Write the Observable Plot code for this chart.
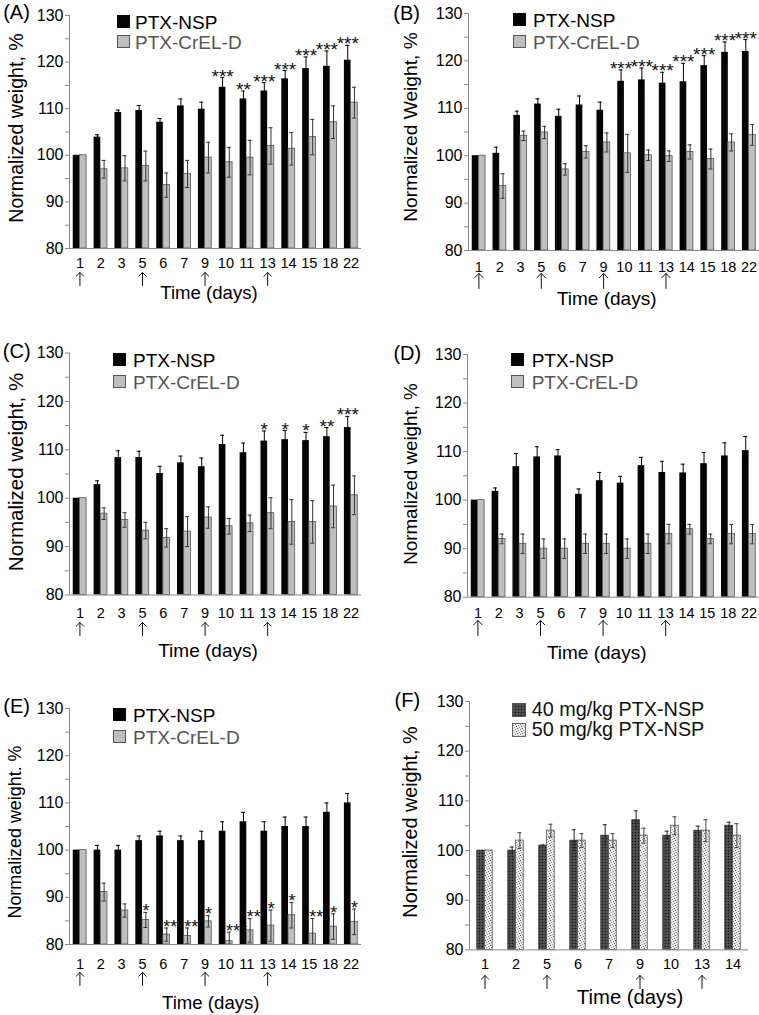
<!DOCTYPE html>
<html><head><meta charset="utf-8">
<script src="https://cdn.jsdelivr.net/npm/d3@7"></script>
<script src="https://cdn.jsdelivr.net/npm/@observablehq/plot@0.6"></script>
<style>
body{margin:0;background:#fff;}
#root{position:relative;width:759px;height:1015px;overflow:hidden;font-family:"Liberation Sans",Arial,Helvetica,sans-serif;color:#000;}
.panel{position:absolute;}
.lbl{position:absolute;white-space:nowrap;line-height:1;}
.sq{position:absolute;box-sizing:border-box;}
</style></head><body>
<svg width="0" height="0" style="position:absolute">
<defs>
<pattern id="patDark" width="3" height="3" patternUnits="userSpaceOnUse">
<rect width="3" height="3" fill="#444"/>
<rect x="0" y="0" width="1" height="1" fill="#161616"/>
<rect x="1.5" y="1.5" width="1" height="1" fill="#7a7a7a"/>
</pattern>
<pattern id="patLight" width="5" height="5" patternUnits="userSpaceOnUse">
<rect width="5" height="5" fill="#e8e8e8"/>
<rect x="0" y="0" width="1" height="1" fill="#555"/>
<rect x="3" y="1" width="1" height="1" fill="#888"/>
<rect x="1" y="2" width="1" height="1" fill="#999"/>
<rect x="4" y="3" width="1" height="1" fill="#666"/>
<rect x="2" y="4" width="1" height="1" fill="#aaa"/>
</pattern>
</defs></svg>
<div id="root"></div>
<script>
// ---------- data ----------
const days = ["1","2","3","5","6","7","9","10","11","13","14","15","18","22"];
const daysF = ["1","2","5","6","7","9","10","13","14"];
const arrowDays = ["1","5","9","13"];
const yTicks = [80, 90, 100, 110, 120, 130];
const yMinorTicks = [85, 95, 105, 115, 125];

// Panel A
const nspA     = [100, 103.9, 109.2, 109.6, 107.1, 110.6, 109.9, 114.6, 112.1, 113.8, 116.4, 118.6, 119.1, 120.4];
const nspErrA  = [0, 0.5, 0.5, 1.1, 0.8, 1.5, 1.5, 2.1, 1.7, 1.8, 1.8, 2.5, 3.3, 3.2];
const crelA    = [100, 97.0, 97.2, 97.7, 93.6, 96.0, 99.5, 98.5, 99.5, 102.0, 101.4, 103.9, 107.1, 111.3];
const crelErrA = [0, 1.9, 2.7, 3.2, 2.6, 2.9, 3.3, 3.2, 3.7, 3.9, 3.5, 3.8, 3.5, 3.3];
const starsA   = ["","","","","","","","***","**","***","***","***","***","***"];

// Panel B
const nspB     = [100, 100.5, 108.5, 110.9, 108.3, 110.7, 109.6, 115.7, 116.0, 115.3, 115.6, 119.0, 121.8, 122.0];
const nspErrB  = [0, 1.3, 0.9, 1.1, 1.5, 1.9, 1.7, 2.4, 2.5, 2.3, 3.9, 2.1, 2.2, 2.5];
const crelB    = [100, 93.6, 104.2, 104.9, 97.1, 100.8, 102.8, 100.5, 100.1, 99.9, 100.8, 99.3, 102.8, 104.4];
const crelErrB = [0, 2.6, 1.0, 1.3, 1.2, 1.3, 2.0, 4.0, 1.1, 1.1, 1.5, 2.1, 1.8, 2.2];
const starsB   = ["","","","","","","","***","***","***","***","***","***","***"];

// Panel C
const nspC     = [100, 102.8, 108.4, 108.4, 105.1, 107.3, 106.5, 111.1, 109.4, 111.8, 112.1, 111.9, 112.7, 114.6];
const nspErrC  = [0, 0.8, 1.4, 1.3, 1.5, 1.4, 1.8, 1.9, 2.0, 2.1, 1.9, 1.7, 1.9, 2.3];
const crelC    = [100, 96.8, 95.5, 93.3, 91.8, 93.1, 96.0, 94.2, 94.8, 96.9, 95.1, 95.1, 98.3, 100.6];
const crelErrC = [0, 1.2, 1.5, 1.7, 1.9, 3.1, 2.2, 1.6, 1.7, 3.2, 4.6, 4.4, 4.4, 4.0];
const starsC   = ["","","","","","","","","","*","*","*","**","***"];

// Panel D
const nspD     = [100, 101.8, 106.9, 108.9, 109.1, 101.2, 104.0, 103.5, 107.1, 105.7, 105.6, 107.5, 109.1, 110.2];
const nspErrD  = [0, 0.7, 2.7, 2.1, 1.3, 1.1, 1.7, 1.4, 1.7, 2.3, 1.8, 2.3, 2.7, 2.9];
const crelD    = [100, 92, 91, 90, 90, 91, 91, 90, 91, 93, 94, 92, 93, 93];
const crelErrD = [0, 1, 2, 2, 2, 2, 2, 2, 2, 2, 1, 1, 2, 2];
const starsD   = ["","","","","","","","","","","","","",""];

// Panel E
const nspE     = [100, 100, 100, 102, 103, 102, 102, 104, 106, 104, 105, 105, 108, 110];
const nspErrE  = [0, 1, 1, 1, 1, 1, 2, 2, 2, 2, 2, 2, 2, 2];
const crelE    = [100, 91.1, 87.2, 85.2, 82.1, 81.8, 84.9, 80.7, 83.0, 84.0, 86.2, 82.3, 83.8, 84.8];
const crelErrE = [0, 1.9, 1.4, 1.6, 1.4, 1.7, 1.2, 1.9, 2.5, 3.3, 2.7, 3.2, 2.7, 2.7];
const starsE   = ["","","","*","**","**","*","***","**","*","*","**","*","*"];

// Panel F
const nsp40F    = [100, 100, 101.0, 102, 103, 106.1, 103, 104, 105];
const nsp40ErrF = [0, 0.7, 0.1, 2.2, 2.2, 1.9, 0.9, 0.9, 0.7];
const nsp50F    = [100, 102, 104, 102, 102, 103, 105, 104, 103];
const nsp50ErrF = [0, 1.6, 1.3, 1.4, 1.4, 1.5, 1.8, 2.2, 2.4];
const starsF    = ["","","","","","","","",""];

// ---------- drawing ----------
const FONT = '"Liberation Sans", Arial, Helvetica, sans-serif';
const root = document.getElementById("root");

function panel(c) {
  const step = (c.x1 - c.x0) / c.days.length;
  const bw = step * c.barFrac;
  const cap = 4;
  const r1 = c.days.map((d, i) => ({day: d, v: c.s1[i], e: c.e1[i]}));
  const r2 = c.days.map((d, i) => ({day: d, v: c.s2[i], e: c.e2[i]}));
  const e1 = r1.filter(d => d.e > 0), e2 = r2.filter(d => d.e > 0);
  const src = c.starsOn === 1 ? r1 : r2;
  const st = c.days.map((d, i) => ({day: d, y: src[i].v + src[i].e, s: c.stars[i]})).filter(d => d.s);
  const capIn1 = {insetLeft: step / 2 - bw / 2 - cap / 2, insetRight: step / 2 + bw / 2 - cap / 2};
  const capIn2 = {insetLeft: step / 2 + bw / 2 - cap / 2, insetRight: step / 2 - bw / 2 - cap / 2};
  const svg = Plot.plot({
    width: c.width, height: c.height,
    marginLeft: c.x0, marginRight: c.width - c.x1, marginTop: c.mt, marginBottom: c.mb,
    x: {type: "band", domain: c.days, padding: 0, round: false},
    y: {domain: [80, 130]},
    style: {fontFamily: FONT, background: "transparent", color: "#000"},
    marks: [
      Plot.axisY(yTicks, {tickSize: 4, tickPadding: 2, fontSize: 16, stroke: "#888", label: null}),
      Plot.axisY(yMinorTicks, {tickSize: 4, stroke: "#888", fill: "none", label: null}),
      Plot.barY(r1, {x: "day", y1: 80, y2: "v", fill: c.fill1, stroke: c.stroke1, strokeWidth: 0.6, insetLeft: step / 2 - bw, insetRight: step / 2}),
      Plot.barY(r2, {x: "day", y1: 80, y2: "v", fill: c.fill2, stroke: c.stroke2, strokeWidth: 0.8, insetLeft: step / 2, insetRight: step / 2 - bw}),
      Plot.ruleX(e1, {x: "day", y1: d => d.v - d.e, y2: d => d.v + d.e, dx: -bw / 2, stroke: c.err1, clip: true}),
      Plot.tickY(e1, {x: "day", y: d => d.v + d.e, ...capIn1, stroke: c.err1}),
      Plot.ruleX(e2, {x: "day", y1: d => d.v - d.e, y2: d => d.v + d.e, dx: bw / 2, stroke: c.err2, clip: true}),
      Plot.tickY(e2, {x: "day", y: d => d.v + d.e, ...capIn2, stroke: c.err2}),
      Plot.tickY(e2.filter(d => d.v - d.e >= 80), {x: "day", y: d => d.v - d.e, ...capIn2, stroke: c.err2}),
      Plot.ruleY([80], {stroke: "#888"}),
      Plot.ruleX([c.days[0]], {x: d => d, y1: 80, y2: 130, dx: -step / 2, stroke: "#888"}),
      Plot.axisX({tickSize: 0, tickPadding: c.tickPad, fontSize: 14.5, label: null}),
      Plot.vector(arrowDays.filter(d => c.days.includes(d)), {x: d => d, frameAnchor: "bottom", dy: c.arrowOff, length: c.arrowLen, anchor: "start", r: 5, stroke: "#111", strokeWidth: 1}),
      Plot.text(st, {x: "day", y: "y", text: "s", fontSize: c.starSize, dy: -1, dx: c.starsOn === 1 ? -bw / 2 : 0, textAnchor: c.starsOn === 1 ? "middle" : "start", fill: "#111"})
    ]
  });
  svg.classList.add("panel");
  svg.style.left = c.left + "px";
  svg.style.top = c.top + "px";
  root.appendChild(svg);
}

function label(text, cx, cy, size, opts = {}) {
  const el = document.createElement("div");
  el.className = "lbl";
  el.textContent = text;
  el.style.fontSize = size + "px";
  el.style.left = cx + "px";
  el.style.top = cy + "px";
  el.style.color = opts.color || "#000";
  el.style.transform = (opts.anchor === "start" ? "translate(0,-50%)" : "translate(-50%,-50%)") + (opts.rotate ? " rotate(-90deg)" : "");
  root.appendChild(el);
}
function square(x, y, fill, stroke) {
  const el = document.createElement("div");
  el.className = "sq";
  el.style.left = x + "px"; el.style.top = y + "px";
  el.style.width = "13px"; el.style.height = "13px";
  el.style.background = fill;
  if (stroke) el.style.border = "1px solid " + stroke;
  root.appendChild(el);
}
function patSquare(x, y, pat) {
  const ns = "http://www.w3.org/2000/svg";
  const s = document.createElementNS(ns, "svg");
  s.setAttribute("width", 14); s.setAttribute("height", 14);
  s.style.position = "absolute"; s.style.left = x + "px"; s.style.top = y + "px";
  const r = document.createElementNS(ns, "rect");
  r.setAttribute("x", 0.5); r.setAttribute("y", 0.5); r.setAttribute("width", 13); r.setAttribute("height", 13);
  r.setAttribute("fill", "url(#" + pat + ")"); r.setAttribute("stroke", "#444"); r.setAttribute("stroke-width", 0.8);
  s.appendChild(r);
  root.appendChild(s);
}

const common = {days, barFrac: 0.32, fill1: "#050505", stroke1: "none", fill2: "#bfbfbf", stroke2: "#555", err1: "#000", err2: "#333", starSize: 19, width: 379};

panel({...common, s1: nspA, e1: nspErrA, s2: crelA, e2: crelErrA, stars: starsA, starsOn: 1,
  left: 0, top: 0, height: 300, mt: 15, mb: 52, x0: 69, x1: 361, tickPad: 9, arrowOff: 37, arrowLen: 13});
panel({...common, s1: nspB, e1: nspErrB, s2: crelB, e2: crelErrB, stars: starsB, starsOn: 1,
  left: 380, top: 0, height: 300, mt: 13, mb: 50, x0: 88, x1: 379, tickPad: 11.5, arrowOff: 38, arrowLen: 15});
panel({...common, s1: nspC, e1: nspErrC, s2: crelC, e2: crelErrC, stars: starsC, starsOn: 1,
  left: 0, top: 330, height: 310, mt: 22.5, mb: 45.5, x0: 69, x1: 361, tickPad: 13, arrowOff: 40.5, arrowLen: 13});
panel({...common, s1: nspD, e1: nspErrD, s2: crelD, e2: crelErrD, stars: starsD, starsOn: 1,
  left: 380, top: 330, height: 310, mt: 24, mb: 43.3, x0: 87, x1: 379, tickPad: 11, arrowOff: 38.3, arrowLen: 15});
panel({...common, s1: nspE, e1: nspErrE, s2: crelE, e2: crelErrE, stars: starsE, starsOn: 2, starSize: 18,
  left: 0, top: 670, height: 330, mt: 38, mb: 56, x0: 69, x1: 361, tickPad: 14, arrowOff: 41, arrowLen: 13});
panel({...common, days: daysF, barFrac: 0.25, fill1: "url(#patDark)", stroke1: "#222", fill2: "url(#patLight)", stroke2: "#555", err1: "#222", err2: "#444",
  s1: nsp40F, e1: nsp40ErrF, s2: nsp50F, e2: nsp50ErrF, stars: starsF, starsOn: 1,
  left: 380, top: 670, height: 330, mt: 31, mb: 50.6, x0: 89, x1: 368, tickPad: 9, arrowOff: 38.6, arrowLen: 13});

// panel letters
label("(A)", 16.5, 11.7, 20);
label("(B)", 406.7, 12.5, 20);
label("(C)", 16.7, 350.5, 20);
label("(D)", 407.3, 352.5, 20);
label("(E)", 16.7, 705.5, 20);
label("(F)", 407.3, 699.5, 20);

// y titles
label("Normalized weight, %", 16.5, 128, 19.6, {rotate: true});
label("Normalized Weight, %", 410.8, 127, 19.2, {rotate: true});
label("Normalized weight, %", 15.8, 472, 20.5, {rotate: true});
label("Normalized weight, %", 410.8, 474, 18.8, {rotate: true});
label("Normalized weight. %", 15.8, 831.5, 17.9, {rotate: true});
label("Normalized weight, %", 410.8, 822, 19.8, {rotate: true});

// x titles
label("Time (days)", 209, 293, 18.6);
label("Time (days)", 606.7, 298, 19);
label("Time (days)", 208, 650, 19);
label("Time (days)", 596.7, 651.7, 19);
label("Time (days)", 210.8, 1003, 18.6);
label("Time (days)", 630, 996.7, 20.3);

// legends
const legendRows = [
  {sx: 117, sy: [15, 35], tx: 135},
  {sx: 513, sy: [13, 35], tx: 533},
  {sx: 113, sy: [353, 375], tx: 133},
  {sx: 511, sy: [353, 375], tx: 531.7},
  {sx: 113, sy: [708, 730], tx: 133}
];
for (const L of legendRows) {
  square(L.sx, L.sy[0], "#050505");
  square(L.sx, L.sy[1], "#bfbfbf", "#555");
  label("PTX-NSP", L.tx, L.sy[0] + 6.5, 19, {anchor: "start", color: "#000"});
  label("PTX-CrEL-D", L.tx, L.sy[1] + 6.5, 19, {anchor: "start", color: "#555"});
}
patSquare(511.7, 703, "patDark");
patSquare(511.7, 723, "patLight");
label("40 mg/kg PTX-NSP", 531.7, 710, 19.8, {anchor: "start", color: "#111"});
label("50 mg/kg PTX-NSP", 531.7, 730, 19.8, {anchor: "start", color: "#111"});
</script>
</body></html>
